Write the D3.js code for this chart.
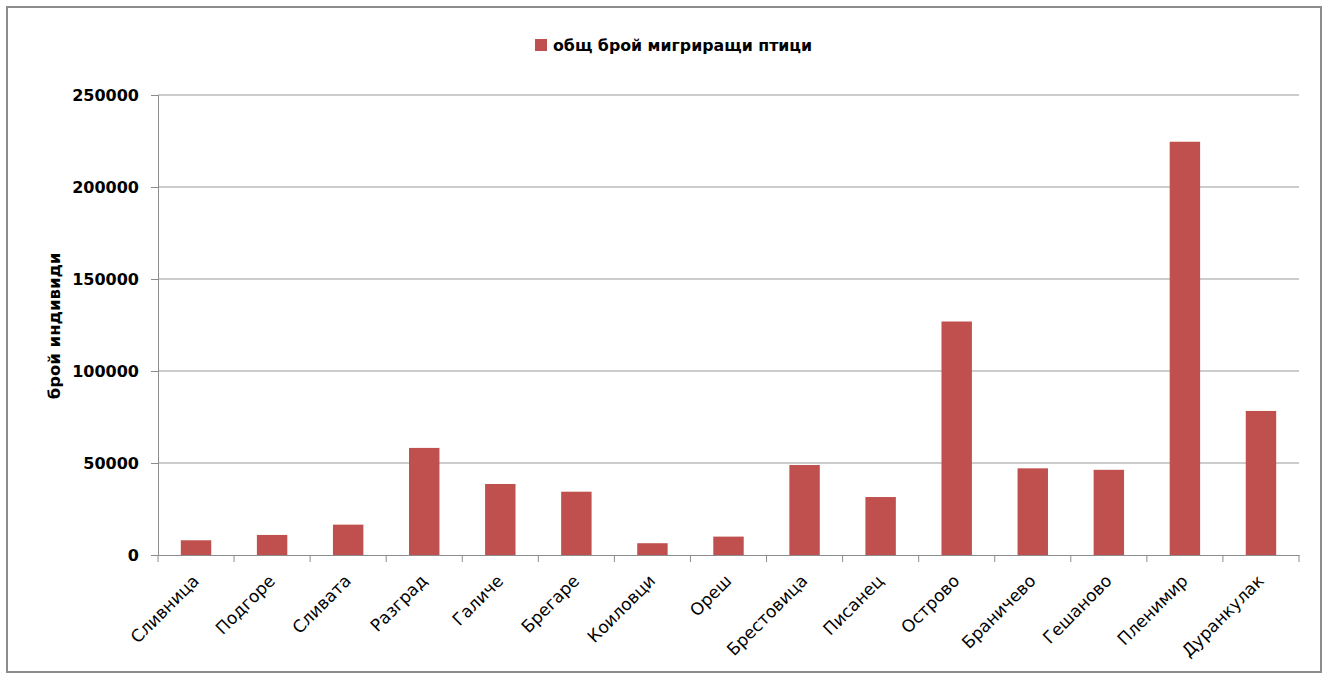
<!DOCTYPE html>
<html>
<head>
<meta charset="utf-8">
<script src="https://cdn.jsdelivr.net/npm/d3@7"></script>
<style>
  body { margin: 0; background: #fff; }
  svg text { font-family: "DejaVu Sans", sans-serif; fill: #000; }
</style>
</head>
<body>
<div id="chart"></div>
<script>
// chart values
const villages = ["Сливница", "Подгоре", "Сливата", "Разград", "Галиче", "Брегаре", "Коиловци", "Ореш",
    "Брестовица", "Писанец", "Острово", "Браничево", "Гешаново", "Пленимир", "Дуранкулак"];
const birdCounts = [8000, 10900, 16500, 58200, 38600, 34400, 6400, 10000,
    48900, 31500, 126900, 47100, 46300, 224600, 78300];
const yTicks = [0, 50000, 100000, 150000, 200000, 250000];
const seriesName = "общ брой мигриращи птици";
const yTitle = "брой индивиди";

const W = 1328, H = 679;
const margin = { top: 95, right: 29, bottom: 124, left: 158 };
const width = W - margin.left - margin.right;
const height = H - margin.top - margin.bottom;

const svg = d3.select("#chart").append("svg")
    .attr("width", W)
    .attr("height", H);

// outer frame
svg.append("rect")
    .attr("x", 7).attr("y", 7)
    .attr("width", W - 14).attr("height", H - 14)
    .attr("fill", "none")
    .attr("stroke", "#8c8c8c")
    .attr("stroke-width", 2);

const g = svg.append("g")
    .attr("transform", `translate(${margin.left}, ${margin.top})`);

// scales
const xScale = d3.scaleBand()
    .domain(villages)
    .range([0, width])
    .paddingInner(0.6)
    .paddingOuter(0.3);

const xCat = d3.scaleBand()
    .domain(villages)
    .range([0, width]);

const yScale = d3.scaleLinear()
    .domain([0, 250000])
    .range([height, 0]);

// gridlines
g.selectAll(".grid")
    .data(yTicks.slice(1))
    .join("line")
    .attr("class", "grid")
    .attr("x1", 0).attr("x2", width)
    .attr("y1", d => yScale(d)).attr("y2", d => yScale(d))
    .attr("stroke", "#9a9a9a")
    .attr("stroke-width", 1);

// y axis
const yAxis = g.append("g")
    .call(d3.axisLeft(yScale).tickValues(yTicks).tickSize(7).tickPadding(12).tickFormat(d3.format("d")));
yAxis.select(".domain").attr("stroke", "#8c8c8c");
yAxis.selectAll(".tick line").attr("stroke", "#8c8c8c");
yAxis.selectAll("text")
    .style("font-size", "16px")
    .style("font-weight", "bold")
    .style("font-family", "'DejaVu Sans', sans-serif");

// bars
g.selectAll(".bar")
    .data(birdCounts)
    .join("rect")
    .attr("class", "bar")
    .attr("x", (d, i) => xScale(villages[i]))
    .attr("y", d => yScale(d))
    .attr("width", xScale.bandwidth())
    .attr("height", d => height - yScale(d))
    .attr("fill", "#c0504d");

// x axis
const xAxis = g.append("g")
    .attr("transform", `translate(0, ${height})`)
    .call(d3.axisBottom(xCat).tickSize(0).tickFormat(""));
xAxis.select(".domain").attr("stroke", "#8c8c8c");

// tick marks between categories
g.selectAll(".xtick")
    .data(d3.range(villages.length + 1))
    .join("line")
    .attr("class", "xtick")
    .attr("x1", i => i * xCat.step()).attr("x2", i => i * xCat.step())
    .attr("y1", height).attr("y2", height + 7)
    .attr("stroke", "#8c8c8c");

// rotated category labels
g.selectAll(".xlabel")
    .data(villages)
    .join("text")
    .attr("class", "xlabel")
    .attr("text-anchor", "end")
    .attr("transform", d => `translate(${xCat(d) + xCat.bandwidth() / 2 + 4}, ${height + 27}) rotate(-45)`)
    .style("font-size", "17px")
    .text(d => d);

// y axis title
svg.append("text")
    .attr("transform", `translate(60, 326) rotate(-90)`)
    .attr("text-anchor", "middle")
    .style("font-size", "16.5px")
    .style("font-weight", "bold")
    .text(yTitle);

// legend
const legend = svg.append("g").attr("transform", "translate(535, 39)");
legend.append("rect")
    .attr("width", 12).attr("height", 12)
    .attr("fill", "#c0504d");
legend.append("text")
    .attr("x", 18).attr("y", 11.5)
    .style("font-size", "15.8px")
    .style("font-weight", "bold")
    .text(seriesName);
</script>
</body>
</html>
